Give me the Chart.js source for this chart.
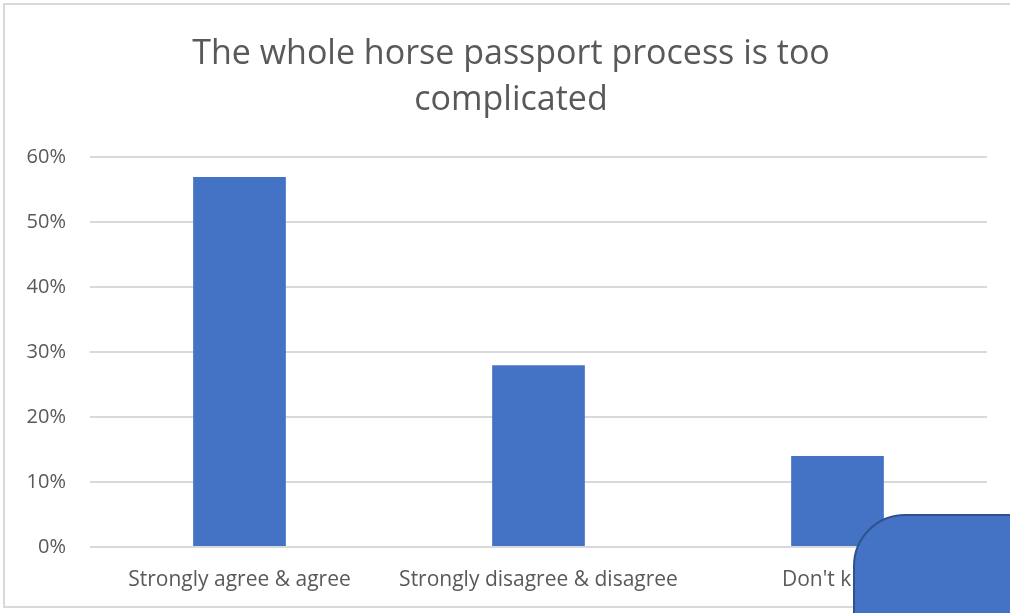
<!DOCTYPE html>
<html>
<head>
<meta charset="utf-8">
<script src="https://cdn.jsdelivr.net/npm/chart.js@4.4.0/dist/chart.umd.min.js"></script>
<style>
  body { margin: 0; background: #fff; }
  #wrap { position: relative; width: 1010px; height: 613px; overflow: hidden; }
  #frame { position: absolute; left: 3px; top: 3px; width: 1010px; height: 605px; border: 2px solid #d9d9d9; box-sizing: border-box; }
  #shape { position: absolute; left: 853px; top: 514px; width: 220px; height: 160px; background: #4472c4; border: 2px solid #2f528f; border-radius: 52px; box-sizing: border-box; }
</style>
</head>
<body>
<div id="wrap">
  <div id="frame"></div>
  <canvas id="myChart" width="1010" height="613"></canvas>
  <div id="shape"></div>
</div>
<script>
// answers
const categories = ["Strongly agree & agree", "Strongly disagree & disagree", "Don't know"];
const percentValues = [57, 28, 14];
const titleLines = ["The whole horse passport process is too", "complicated"];
const yMax = 60;
const yStep = 10;

const fontName = "'Open Sans', sans-serif";
const grey = "#595959";

const ctx = document.getElementById("myChart").getContext("2d");
const myChart = new Chart(ctx, {
  type: "bar",
  data: {
    labels: categories,
    datasets: [
      {
        label: "Responses",
        data: percentValues,
        backgroundColor: "#4472c4",
        borderWidth: 0,
        categoryPercentage: 1,
        barPercentage: 0.31,
      },
    ],
  },
  options: {
    responsive: false,
    animation: false,
    layout: { padding: { left: 12, right: 0, top: 0, bottom: 0 } },
    plugins: {
      legend: { display: false },
      tooltip: { enabled: false },
      title: {
        display: true,
        text: titleLines,
        color: grey,
        font: { family: fontName, size: 34, weight: "normal", lineHeight: 1.36 },
        padding: { top: 31, bottom: 34 },
      },
    },
    scales: {
      x: {
        grid: { display: false, drawTicks: false },
        border: { display: false },
        ticks: {
          color: grey,
          font: { family: fontName, size: 21 },
          padding: 20,
          maxRotation: 0,
          autoSkip: false,
        },
        afterFit: function (scale) {
          scale.height = 66;
        },
      },
      y: {
        min: 0,
        max: yMax,
        grid: { color: "#d9d9d9", lineWidth: 2, drawTicks: false },
        border: { display: false },
        ticks: {
          stepSize: yStep,
          color: grey,
          font: { family: fontName, size: 20 },
          padding: 24,
          callback: function (v) {
            return v + "%";
          },
        },
        afterFit: function (scale) {
          scale.width = 78;
        },
      },
      // empty right axis, only keeps the right margin
      yRight: {
        position: "right",
        grid: { display: false, drawTicks: false },
        border: { display: false },
        ticks: { display: false },
        afterFit: function (scale) {
          scale.width = 23;
        },
      },
    },
  },
});
</script>
</body>
</html>
